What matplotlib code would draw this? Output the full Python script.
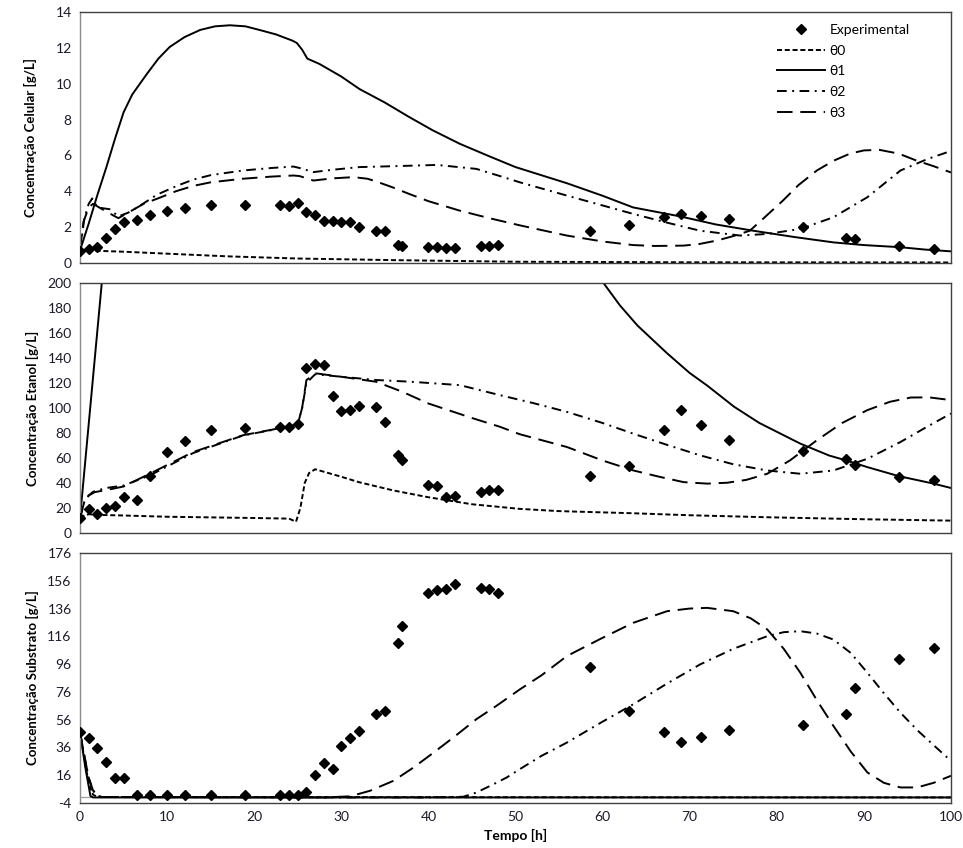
import matplotlib
matplotlib.use("Agg")
import matplotlib.pyplot as plt

plt.rcParams['font.family'] = ['Lato', 'DejaVu Sans']
plt.rcParams['axes.unicode_minus'] = False

# tempos das amostras experimentais [h]
t_exp = [0, 1, 2, 3, 4, 5, 6.5, 8, 10, 12, 15, 19, 23, 24, 25, 26, 27, 28, 29, 30, 31, 32,
         34, 35, 36.5, 37, 40, 41, 42, 43, 46, 47, 48, 58.5, 63, 67, 69, 71.3, 74.5, 83,
         88, 89, 94, 98]

cel_exp = [0.65, 0.78, 0.87, 1.38, 1.9, 2.3, 2.42, 2.7, 2.92, 3.07, 3.24, 3.24, 3.24, 3.2,
           3.33, 2.83, 2.7, 2.37, 2.37, 2.27, 2.27, 2.03, 1.8, 1.77, 1.0, 0.97, 0.88, 0.88,
           0.84, 0.84, 0.97, 0.97, 1.0, 1.77, 2.12, 2.55, 2.74, 2.64, 2.46, 1.99, 1.4, 1.32,
           0.93, 0.76]

eta_exp = [12, 19.3, 15.3, 20, 21.7, 28.6, 26.5, 46, 64.8, 73.6, 82.7, 84.3, 84.9, 84.9, 87,
           132.3, 135.2, 134.1, 109.5, 97.5, 98.3, 101.5, 100.4, 88.9, 62, 58.6, 38.6, 38,
           28.6, 29.5, 33.2, 34.5, 34.8, 46, 53.3, 82.7, 98.3, 86.7, 74.2, 65.6, 59.4, 54.6,
           44.7, 42.6]

sub_exp = [47.4, 42.6, 35.4, 25.8, 14.3, 13.8, 1.6, 1.6, 1.6, 1.6, 1.6, 1.6, 1.6, 1.6, 1.6,
           4.2, 16.2, 24.6, 20.3, 37.1, 42.6, 47.7, 59.9, 62.3, 111.5, 123.5, 147.5, 149.4,
           149.9, 153.5, 151.1, 149.9, 147.0, 94.2, 62.3, 47.2, 40.2, 43.6, 48.4, 52.2, 59.9,
           78.6, 99.5, 107.7]

# --- Concentracao celular (modelos) ---
cel_t0 = [0, 2, 5, 10, 17, 25, 36, 50, 70, 100]
cel_y0 = [0.68, 0.68, 0.63, 0.52, 0.37, 0.25, 0.16, 0.07, 0.04, 0.03]

cel_t1 = [0, 1, 2, 3, 4, 5, 6, 7.7, 9, 10.3, 12, 13.8, 15.5, 17.2, 19, 20.6, 22.5, 24.4,
          24.9, 25.5, 26.1, 27.5, 30, 32.1, 35, 37.8, 40.5, 43.6, 47, 50, 55.9, 60, 63.5,
          68.9, 73, 77.3, 82, 86.5, 90, 94.2, 97, 100]
cel_y1 = [0.7, 2.2, 3.8, 5.3, 6.9, 8.4, 9.4, 10.56, 11.4, 12.05, 12.6, 13.0, 13.2, 13.26,
          13.2, 13.0, 12.75, 12.4, 12.27, 11.9, 11.4, 11.1, 10.4, 9.7, 8.95, 8.14, 7.4, 6.65,
          5.95, 5.35, 4.45, 3.75, 3.1, 2.6, 2.15, 1.8, 1.45, 1.15, 1.0, 0.88, 0.75, 0.65]

cel_t2 = [0, 0.5, 1, 1.4, 2, 3.4, 4.4, 5.5, 6.9, 8.8, 11.1, 13, 15, 18.7, 22, 24.5, 25.2,
          26.8, 29, 32.1, 36, 41, 45.5, 48.2, 50.5, 55.9, 59.7, 63.5, 67.4, 71.2, 75.8,
          78.9, 82.7, 86.5, 90.4, 94.2, 97.3, 100]
cel_y2 = [0.7, 2.5, 3.3, 3.6, 3.1, 3.0, 2.6, 2.8, 3.2, 3.8, 4.3, 4.65, 4.9, 5.16, 5.3, 5.38,
          5.3, 5.07, 5.2, 5.35, 5.4, 5.47, 5.25, 4.85, 4.5, 3.76, 3.25, 2.74, 2.25, 1.8, 1.53,
          1.62, 1.9, 2.55, 3.67, 5.16, 5.8, 6.25]

cel_t3 = [0, 0.4, 1, 1.5, 2.9, 4.4, 5.5, 7.3, 9.2, 11, 13, 15, 18.7, 22, 24.5, 25.2, 26.8,
          29, 31.4, 33, 34, 36, 37.8, 40, 43.6, 47, 50.5, 55.9, 60, 63.5, 66, 69.3, 71, 73.1,
          75, 76.9, 78.5, 80.7, 82.5, 84.6, 86.5, 88.4, 90, 91.8, 94, 96, 98, 100]
cel_y3 = [0.7, 2.3, 3.1, 3.3, 2.9, 2.5, 2.8, 3.3, 3.65, 4.0, 4.3, 4.5, 4.7, 4.82, 4.88, 4.85,
          4.6, 4.72, 4.79, 4.7, 4.55, 4.2, 3.85, 3.45, 2.92, 2.5, 2.1, 1.53, 1.2, 1.0, 0.95,
          0.97, 1.05, 1.25, 1.5, 1.8, 2.5, 3.48, 4.35, 5.16, 5.7, 6.1, 6.28, 6.31, 6.1, 5.72,
          5.4, 5.05]

# --- Concentracao de etanol (modelos) ---
eta_t0 = [0, 0.5, 1, 2, 5, 10, 15, 20, 24, 24.8, 25.3, 25.8, 26.3, 27, 28, 30, 32, 36, 40,
          45, 50.5, 55, 63.5, 70, 78.9, 90, 100]
eta_y0 = [12, 14, 15, 14.5, 14, 13, 12.5, 12, 11.5, 9, 20, 40, 48, 51, 49, 45, 40.7, 34,
          28.6, 23, 19.3, 17.5, 15.8, 14.2, 12.6, 11, 9.9]

eta_t1 = [0, 2.5, 3, 58, 60.1, 62, 64, 67.4, 70, 72, 75.1, 78, 82.7, 86, 88, 90.4, 94, 98,
          100]
eta_y1 = [12, 200, 235, 225, 200, 182, 166, 143.8, 128, 118, 101, 88, 71.5, 62, 58, 52.7,
          45.5, 39.5, 36]

eta_t2 = [0, 0.5, 1, 1.5, 3, 5, 8, 13, 18.7, 24, 25, 25.5, 26, 27, 30, 34, 38, 43.6, 48.2,
          52, 55.9, 60, 63.5, 67.4, 71.2, 75, 78.9, 82.7, 86.5, 90.4, 94.2, 97, 100]
eta_y2 = [12, 25, 30, 33, 36, 38, 46, 64, 78, 85, 87, 100, 120, 127, 125, 122.4, 121, 118.3,
          110.3, 104, 96.9, 88, 79.5, 70.5, 62.1, 55, 50, 47.4, 50, 59.4, 72.8, 84, 95.6]

eta_t3 = [0, 0.5, 1, 1.7, 3.7, 5, 8, 13, 18.7, 24.1, 25, 25.5, 26, 27.1, 30, 34, 37, 40,
          45, 48.2, 50.5, 55.9, 60, 63.5, 66.5, 69.3, 72, 74.3, 76.5, 78.9, 81.5, 84.6, 87.5,
          90.4, 93, 95.4, 97.5, 100]
eta_y3 = [12, 25, 30, 32.7, 35.3, 37.2, 47.4, 64.8, 78.2, 85.4, 87, 100, 122.4, 127.7, 125,
          121, 113, 103.6, 92, 85, 79, 68.8, 58, 50.1, 45, 40.7, 39.5, 40.2, 42.5, 47.4, 58,
          74.2, 88, 98.3, 105, 108.4, 108.5, 106.3]

# --- Concentracao de substrato (modelos) ---
sub_t0 = [0, 0.5, 1, 1.5, 2, 100]
sub_y0 = [47, 28, 10, 2, 0.3, 0]

sub_t1 = [0, 0.6, 1.2, 1.5, 100]
sub_y1 = [47, 22, 1, 0, 0]

sub_t2 = [0, 0.5, 1, 1.5, 2, 2.5, 30, 40, 44, 45.5, 47.5, 49, 50.5, 53, 55.9, 59.7, 63.5,
          67.4, 71.2, 75, 78.9, 80.8, 82.7, 84.6, 86.5, 88.5, 90.4, 92.3, 94.2, 96.2, 98.1, 100]
sub_y2 = [47, 30, 14, 5, 1.5, 0.3, 0, 0, 0.5, 3.5, 9.6, 14.4, 20.4, 30, 39.5, 53.5, 67, 82,
          95.8, 107, 116.1, 119, 119.7, 118, 113.7, 104, 89.8, 75, 61, 48, 37.1, 26.3]

sub_t3 = [0, 0.5, 1, 1.5, 2, 2.5, 28, 31, 33.3, 36, 38.3, 40.6, 43.1, 45.5, 47.8, 50.5, 53,
          55.9, 59.7, 63.5, 67.4, 70, 72, 75, 77, 78.9, 80.8, 82.7, 84.6, 86.5, 88.5, 90.4,
          92.3, 94.2, 96.1, 98, 100]
sub_y3 = [47, 30, 14, 5, 1.5, 0.3, 0, 0.8, 4.8, 12, 21.6, 32.3, 44.3, 56.3, 65.9, 77.8, 88,
          101.8, 114, 125.7, 134.1, 136, 136.5, 134.1, 129, 121, 107, 89.8, 70, 51.5, 33, 18,
          10.5, 7.2, 7.2, 10.5, 15.6]

# estilos das curvas (em unidades de espessura de linha)
ls0 = (0, (2.6, 1.4))
ls1 = '-'
ls2 = (0, (5, 2.8, 1, 2.8))
ls3 = (0, (8, 4))
lw = 1.4
tick_color = '#1a1a2a'

fig = plt.figure(figsize=(9.63, 8.48), dpi=100)
left, width = 80 / 963, 871 / 963
ax1 = fig.add_axes([left, 1 - 263 / 848, width, 251 / 848])
ax2 = fig.add_axes([left, 1 - 533 / 848, width, 250 / 848])
ax3 = fig.add_axes([left, 1 - 803 / 848, width, 250 / 848])

panels = [
    (ax1, cel_exp, (cel_t0, cel_y0), (cel_t1, cel_y1), (cel_t2, cel_y2), (cel_t3, cel_y3)),
    (ax2, eta_exp, (eta_t0, eta_y0), (eta_t1, eta_y1), (eta_t2, eta_y2), (eta_t3, eta_y3)),
    (ax3, sub_exp, (sub_t0, sub_y0), (sub_t1, sub_y1), (sub_t2, sub_y2), (sub_t3, sub_y3)),
]

for ax, exp, m0, m1, m2, m3 in panels:
    ax.plot(t_exp, exp, linestyle='none', marker='D', markersize=4.6, color='black',
            label='Experimental', zorder=5)
    ax.plot(*m0, color='black', lw=lw, linestyle=ls0, label='θ0')
    ax.plot(*m1, color='black', lw=lw, linestyle=ls1, label='θ1')
    ax.plot(*m2, color='black', lw=lw, linestyle=ls2, label='θ2')
    ax.plot(*m3, color='black', lw=lw, linestyle=ls3, label='θ3')
    ax.set_xlim(0, 100)
    ax.set_xticks(range(0, 101, 10))
    ax.tick_params(length=0, labelsize=10, colors=tick_color, pad=6)
    for side in ['top', 'right', 'bottom']:
        ax.spines[side].set_color('#404040')
        ax.spines[side].set_linewidth(1.0)
    ax.spines['left'].set_color('#8c8c8c')
    ax.spines['left'].set_linewidth(1.0)

ylab = dict(fontsize=9.5, fontweight='bold')

ax1.set_ylim(0, 14)
ax1.set_yticks(range(0, 15, 2))
ax1.set_xticklabels([])
ax1.set_ylabel('Concentração Celular [g/L]', labelpad=13, **ylab)

ax2.set_ylim(0, 200)
ax2.set_yticks(range(0, 201, 20))
ax2.set_xticklabels([])
ax2.set_ylabel('Concentração Etanol [g/L]', labelpad=6, **ylab)

ax3.set_ylim(-4, 176)
ax3.set_yticks(range(-4, 177, 20))
ax3.axhline(0, color='#a0a0a0', lw=0.9, zorder=0)
ax3.set_ylabel('Concentração Substrato [g/L]', labelpad=6, **ylab)
ax3.set_xlabel('Tempo [h]', fontsize=10, fontweight='bold', labelpad=4)

ax1.legend(loc='upper right', bbox_to_anchor=(0.962, 0.985), frameon=False, fontsize=10,
           handlelength=3.5, handletextpad=0.3, labelspacing=0.62, borderaxespad=0.2)

fig.savefig('out.png', dpi=100)
